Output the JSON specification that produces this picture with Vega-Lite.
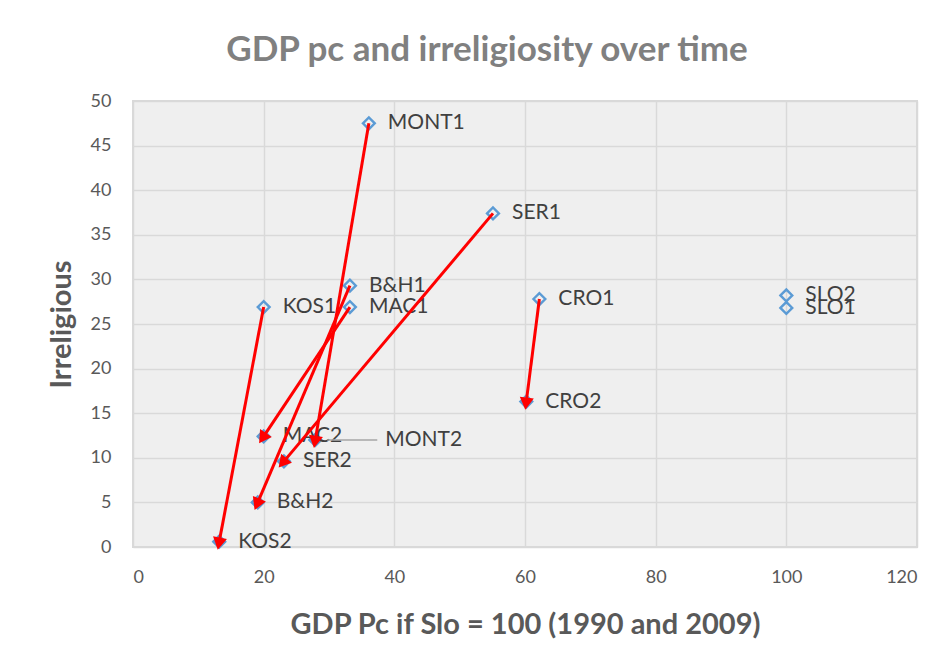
{
  "$schema": "https://vega.github.io/schema/vega-lite/v6.json",
  "width": 784,
  "height": 446,
  "autosize": "none",
  "padding": {"left": 133, "top": 101, "right": 30, "bottom": 119},
  "background": "white",
  "config": {
    "font": "Lato",
    "view": {"fill": "#efefef", "stroke": "#d9d9d9", "strokeWidth": 2}
  },
  "title": {
    "text": "GDP pc and irreligiosity over time",
    "fontSize": 35,
    "fontWeight": "bold",
    "color": "#808080",
    "anchor": "middle",
    "frame": "group",
    "dx": -38,
    "offset": 24
  },
  "datasets": {
    "points": [
      {"label": "MONT1", "gdp": 36.1, "irr": 47.5},
      {"label": "SER1", "gdp": 55.1, "irr": 37.4},
      {"label": "B&H1", "gdp": 33.2, "irr": 29.3},
      {"label": "KOS1", "gdp": 20.0, "irr": 26.9},
      {"label": "MAC1", "gdp": 33.2, "irr": 26.9},
      {"label": "CRO1", "gdp": 62.2, "irr": 27.8},
      {"label": "SLO1", "gdp": 100, "irr": 26.8},
      {"label": "MONT2", "gdp": 27.9, "irr": 12.0},
      {"label": "SER2", "gdp": 23.1, "irr": 9.6},
      {"label": "B&H2", "gdp": 19.1, "irr": 5.0},
      {"label": "KOS2", "gdp": 13.2, "irr": 0.6},
      {"label": "MAC2", "gdp": 20.0, "irr": 12.4},
      {"label": "CRO2", "gdp": 60.2, "irr": 16.3},
      {"label": "SLO2", "gdp": 100, "irr": 28.2}
    ],
    "moves": [
      {"country": "MONT", "gdp1": 36.1, "irr1": 47.5, "gdp2": 27.9, "irr2": 12.0},
      {"country": "SER", "gdp1": 55.1, "irr1": 37.4, "gdp2": 23.1, "irr2": 9.6},
      {"country": "B&H", "gdp1": 33.2, "irr1": 29.3, "gdp2": 19.1, "irr2": 5.0},
      {"country": "KOS", "gdp1": 20.0, "irr1": 26.9, "gdp2": 13.2, "irr2": 0.6},
      {"country": "MAC", "gdp1": 33.2, "irr1": 26.9, "gdp2": 20.0, "irr2": 12.4},
      {"country": "CRO", "gdp1": 62.2, "irr1": 27.8, "gdp2": 60.2, "irr2": 16.3}
    ]
  },
  "encoding": {
    "x": {
      "type": "quantitative",
      "scale": {"domain": [0, 120], "nice": false},
      "axis": {
        "values": [0, 20, 40, 60, 80, 100, 120],
        "title": "GDP Pc if Slo = 100 (1990 and 2009)",
        "grid": true, "gridColor": "#d9d9d9", "gridWidth": 1.5,
        "domain": false, "ticks": false,
        "labelFontSize": 18, "labelColor": "#595959", "labelPadding": 21,
        "titleFontSize": 29, "titleColor": "#595959", "titleFontWeight": "bold", "titlePadding": 24
      }
    },
    "y": {
      "type": "quantitative",
      "scale": {"domain": [0, 50], "nice": false},
      "axis": {
        "values": [0, 5, 10, 15, 20, 25, 30, 35, 40, 45, 50],
        "title": "Irreligious",
        "grid": true, "gridColor": "#d9d9d9", "gridWidth": 1.5,
        "domain": false, "ticks": false,
        "labelFontSize": 18, "labelColor": "#595959", "labelPadding": 22,
        "titleFontSize": 29, "titleColor": "#595959", "titleFontWeight": "bold", "titlePadding": 14
      }
    }
  },
  "layer": [
    {
      "data": {"name": "points"},
      "mark": {"type": "point", "shape": "diamond", "filled": false, "stroke": "#5b9bd5", "strokeWidth": 2.4, "size": 140, "opacity": 1},
      "encoding": {"x": {"field": "gdp"}, "y": {"field": "irr"}}
    },
    {
      "data": {"name": "points"},
      "transform": [{"filter": "datum.label != 'MONT2'"}],
      "mark": {"type": "text", "align": "left", "baseline": "middle", "dx": 19, "fontSize": 21, "color": "#404040"},
      "encoding": {"x": {"field": "gdp"}, "y": {"field": "irr"}, "text": {"field": "label"}}
    },
    {
      "data": {"name": "points"},
      "transform": [{"filter": "datum.label == 'MONT2'"}],
      "mark": {"type": "rule", "color": "#a6a6a6", "strokeWidth": 1.5, "xOffset": 12, "x2Offset": 62},
      "encoding": {"x": {"field": "gdp"}, "x2": {"field": "gdp"}, "y": {"field": "irr"}}
    },
    {
      "data": {"name": "points"},
      "transform": [{"filter": "datum.label == 'MONT2'"}],
      "mark": {"type": "text", "align": "left", "baseline": "middle", "dx": 70, "fontSize": 21, "color": "#404040"},
      "encoding": {"x": {"field": "gdp"}, "y": {"field": "irr"}, "text": {"field": "label"}}
    },
    {
      "data": {"name": "moves"},
      "mark": {"type": "rule", "color": "#ff0000", "strokeWidth": 3},
      "encoding": {"x": {"field": "gdp1"}, "y": {"field": "irr1"}, "x2": {"field": "gdp2"}, "y2": {"field": "irr2"}}
    },
    {
      "data": {"name": "moves"},
      "transform": [{"calculate": "atan2((datum.gdp2 - datum.gdp1) * 784 / 120, (datum.irr2 - datum.irr1) * 446 / 50) * 180 / PI", "as": "ang"}],
      "mark": {"type": "point", "shape": "triangle", "filled": true, "color": "#ff0000", "size": 200, "opacity": 1},
      "encoding": {"x": {"field": "gdp2"}, "y": {"field": "irr2"}, "angle": {"field": "ang", "type": "quantitative", "scale": null}}
    }
  ]
}
